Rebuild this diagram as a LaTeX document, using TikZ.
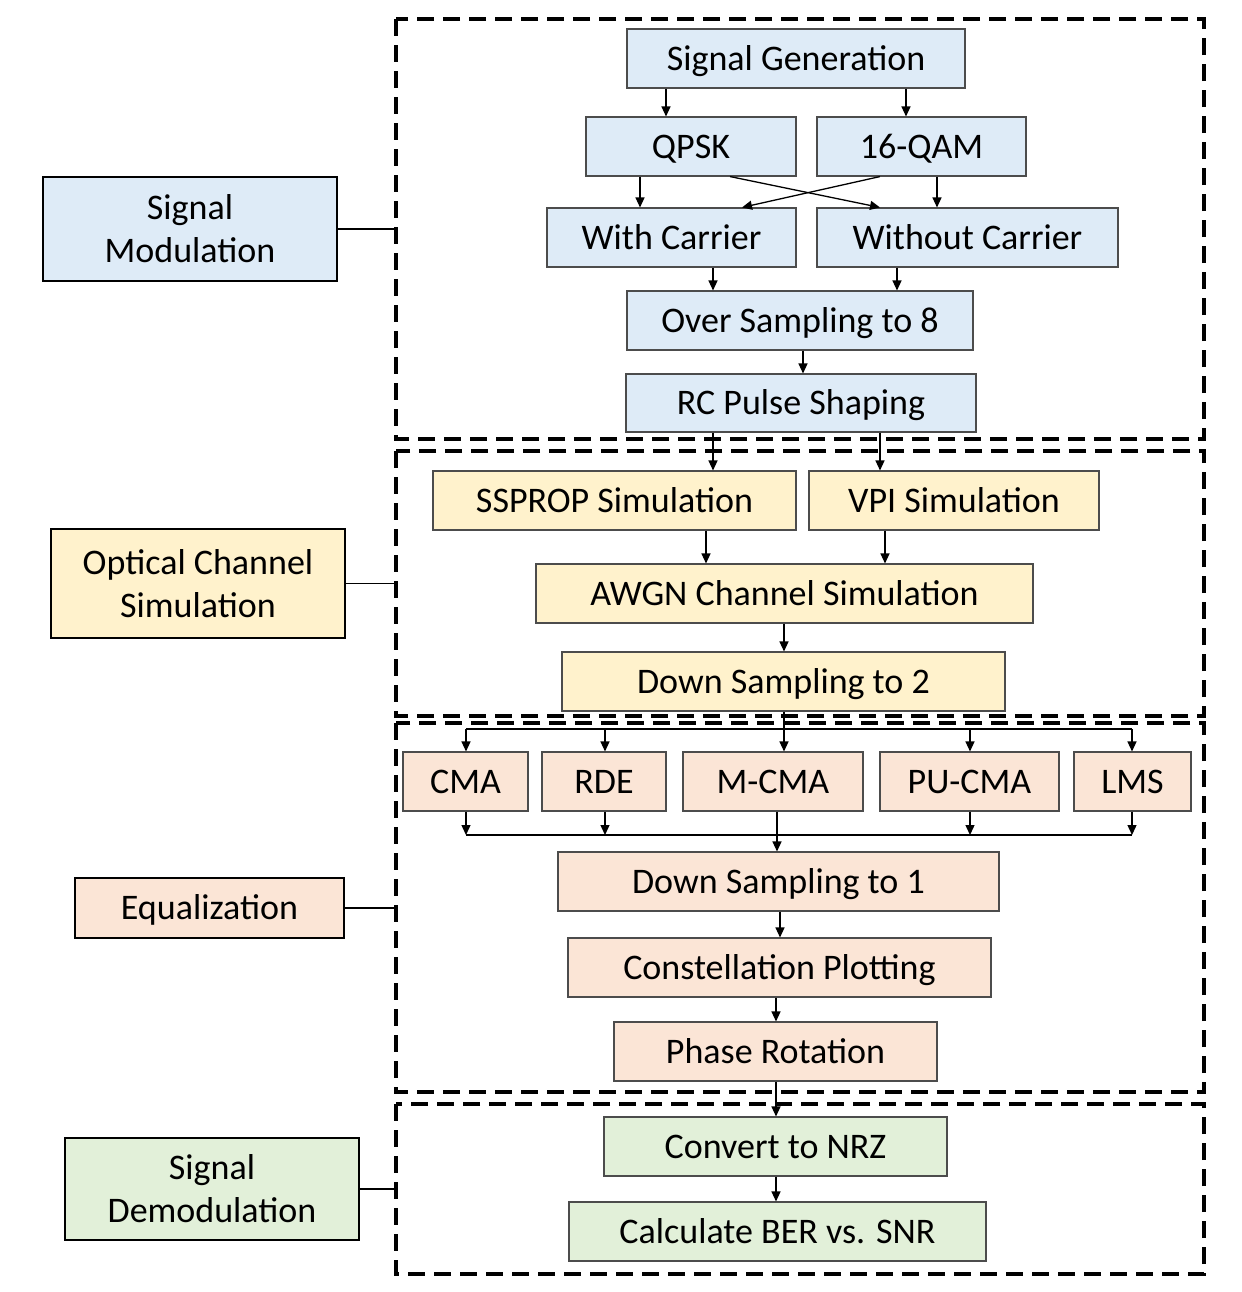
\documentclass[tikz,border=0pt]{standalone}
\usepackage{fontspec}
\setmainfont{Carlito}
\usetikzlibrary{arrows.meta}
\definecolor{cBlue}{HTML}{DEEBF7}
\definecolor{cYel}{HTML}{FFF2CC}
\definecolor{cPch}{HTML}{FBE5D6}
\definecolor{cGrn}{HTML}{E2F0D9}
\begin{document}
\begin{tikzpicture}[x=0.5pt,y=-0.5pt,
  box/.style={draw=black!70, line width=0.55pt, minimum height=29.5pt, inner sep=0pt,
    text height=11.6pt, text depth=0pt, font=\fontsize{18}{21.5}\selectfont},
  blu/.style={box, fill=cBlue},
  yel/.style={box, fill=cYel},
  pch/.style={box, fill=cPch},
  grn/.style={box, fill=cGrn},
  lab/.style={draw=black, line width=0.8pt, inner sep=0pt, align=center,
    font=\fontsize{18}{21.5}\selectfont},
  arr/.style={line width=0.65pt, -{Triangle[length=5pt,width=4.5pt]}},
  grp/.style={line width=1.6pt, dash pattern=on 8.5pt off 4.5pt},
  link/.style={line width=0.6pt}]
\useasboundingbox (0,0) rectangle (1242,1292);

% group frames
\coordinate (g1nw) at (396,19);   \coordinate (g1se) at (1204,439);
\coordinate (g2nw) at (396,451);  \coordinate (g2se) at (1204,716);
\coordinate (g3nw) at (396,723);  \coordinate (g3se) at (1204,1092);
\coordinate (g4nw) at (396,1104); \coordinate (g4se) at (1204,1274);
\draw[grp] (g1nw) rectangle (g1se);
\draw[grp] (g2nw) rectangle (g2se);
\draw[grp] (g3nw) rectangle (g3se);
\draw[grp] (g4nw) rectangle (g4se);

% modulation
\node[blu, minimum width=169pt] (sg) at (796,58.5) {Signal Generation};
\node[blu, minimum width=105pt] (qpsk) at (691,146.5) {QPSK};
\node[blu, minimum width=104.5pt] (qam) at (921.5,146.5) {16-QAM};
\node[blu, minimum width=124.5pt] (wc) at (671.5,237.5) {With Carrier};
\node[blu, minimum width=150.5pt] (woc) at (967.5,237.5) {Without Carrier};
\node[blu, minimum width=173pt] (os) at (800,320.5) {Over Sampling to 8};
\node[blu, minimum width=175pt, minimum height=29pt] (rc) at (801,403) {RC Pulse Shaping};
% channel
\node[yel, minimum width=181.5pt] (ssp) at (614.5,500.5) {SSPROP Simulation};
\node[yel, minimum width=145pt] (vpi) at (954,500.5) {VPI Simulation};
\node[yel, minimum width=248.5pt] (awgn) at (784.5,593.5) {AWGN Channel Simulation};
\node[yel, minimum width=221.5pt] (dstwo) at (783.5,681.5) {Down Sampling to 2};
% equalization
\node[pch, minimum width=62.5pt] (cma) at (465.5,781.5) {CMA};
\node[pch, minimum width=62pt] (rde) at (604,781.5) {RDE};
\node[pch, minimum width=90pt] (mcma) at (773,781.5) {M-CMA};
\node[pch, minimum width=89.5pt] (pucma) at (969.5,781.5) {PU-CMA};
\node[pch, minimum width=58.5pt] (lms) at (1132.5,781.5) {LMS};
\node[pch, minimum width=220.5pt] (dsone) at (778.5,881.5) {Down Sampling to 1};
\node[pch, minimum width=211.5pt] (cp) at (779.5,967.5) {Constellation Plotting};
\node[pch, minimum width=161.5pt] (pr) at (775.5,1051.5) {Phase Rotation};
% demodulation
\node[grn, minimum width=171.5pt] (nrz) at (775.5,1146.5) {Convert to NRZ};
\node[grn, minimum width=208.5pt] (ber) at (777.5,1231.5) {Calculate BER vs. SNR};

% left labels
\node[lab, fill=cBlue, minimum width=147pt, minimum height=52pt] (lsm) at (190,229) {Signal\\Modulation};
\node[lab, fill=cYel, minimum width=147pt, minimum height=54.5pt] (locs) at (198,583.5) {Optical Channel\\Simulation};
\node[lab, fill=cPch, minimum width=134.5pt, minimum height=30pt, text height=11.6pt, text depth=0pt] (leq) at (209.5,908) {Equalization};
\node[lab, fill=cGrn, minimum width=147pt, minimum height=51pt] (lsd) at (212,1189) {Signal\\Demodulation};

\draw[link] (lsm.east) -- (lsm.east -| g1nw);
\draw[link] (locs.east) -- (locs.east -| g2nw);
\draw[link] (leq.east) -- (leq.east -| g3nw);
\draw[link] (lsd.east) -- (lsd.east -| g4nw);

% x positions of connectors
\coordinate (xa) at (666,0);
\coordinate (xb) at (906,0);
\coordinate (xc) at (640,0);
\coordinate (xd) at (937,0);
\coordinate (xe) at (730,0);
\coordinate (xf) at (880,0);
\coordinate (xg) at (742,0);
\coordinate (xh) at (713,0);
\coordinate (xi) at (897,0);
\coordinate (xj) at (803,0);
\coordinate (xk) at (706,0);
\coordinate (xl) at (885,0);
\coordinate (xm) at (784,0);
\coordinate (xrde) at (605,0);
\coordinate (xpu) at (970,0);
\coordinate (xmc) at (777,0);
\coordinate (xn) at (780,0);
\coordinate (xo) at (776,0);

\draw[arr] (sg.south -| xa) -- (qpsk.north -| xa);
\draw[arr] (sg.south -| xb) -- (qam.north -| xb);
\draw[arr] (qpsk.south -| xc) -- (wc.north -| xc);
\draw[arr] (qam.south -| xd) -- (woc.north -| xd);
\draw[arr] (qpsk.south -| xe) -- (woc.north -| xf);
\draw[arr] (qam.south -| xf) -- (wc.north -| xg);
\draw[arr] (wc.south -| xh) -- (os.north -| xh);
\draw[arr] (woc.south -| xi) -- (os.north -| xi);
\draw[arr] (os.south -| xj) -- (rc.north -| xj);
\draw[arr] (rc.south -| xh) -- (ssp.north -| xh);
\draw[arr] (rc.south -| xf) -- (vpi.north -| xf);
\draw[arr] (ssp.south -| xk) -- (awgn.north -| xk);
\draw[arr] (vpi.south -| xl) -- (awgn.north -| xl);
\draw[arr] (awgn.south -| xm) -- (dstwo.north -| xm);

% distribution bus
\coordinate (busL) at (466,729);
\coordinate (busR) at (1132,729);
\draw[link] (busL) -- (busR);
\draw[arr] (dstwo.south -| xm) -- (mcma.north -| xm);
\draw[arr] (busL) -- (cma.north -| busL);
\draw[arr] (busL -| xrde) -- (rde.north -| xrde);
\draw[arr] (busL -| xpu) -- (pucma.north -| xpu);
\draw[arr] (busR) -- (lms.north -| busR);

% collecting bus
\coordinate (botL) at (466,835);
\coordinate (botR) at (1132,835);
\draw[link] (botL) -- (botR);
\draw[arr] (cma.south -| botL) -- (botL);
\draw[arr] (rde.south -| xrde) -- (botL -| xrde);
\draw[arr] (pucma.south -| xpu) -- (botL -| xpu);
\draw[arr] (lms.south -| botR) -- (botR);
\draw[arr] (mcma.south -| xmc) -- (dsone.north -| xmc);

\draw[arr] (dsone.south -| xn) -- (cp.north -| xn);
\draw[arr] (cp.south -| xo) -- (pr.north -| xo);
\draw[arr] (pr.south -| xo) -- (nrz.north -| xo);
\draw[arr] (nrz.south -| xo) -- (ber.north -| xo);
\end{tikzpicture}
\end{document}
